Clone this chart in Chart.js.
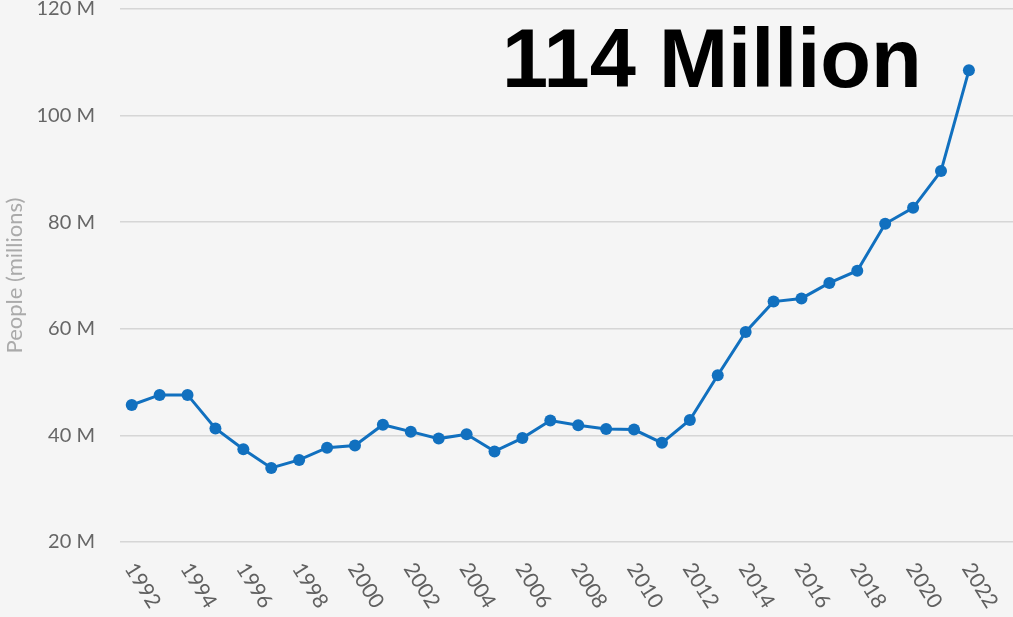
<!DOCTYPE html>
<html>
<head>
<meta charset="utf-8">
<script src="https://cdn.jsdelivr.net/npm/chart.js@4"></script>
<style>
  html, body { margin: 0; padding: 0; background: #f5f5f5; }
  canvas { display: block; }
</style>
</head>
<body>
<canvas id="peopleChart" width="1013" height="617"></canvas>
<script>
// values
const years = [1992, 1993, 1994, 1995, 1996, 1997, 1998, 1999, 2000, 2001,
  2002, 2003, 2004, 2005, 2006, 2007, 2008, 2009, 2010, 2011,
  2012, 2013, 2014, 2015, 2016, 2017, 2018, 2019, 2020, 2021, 2022];
const people = [45.7, 47.6, 47.6, 41.3, 37.4, 33.9, 35.4, 37.7, 38.1, 42.0,
  40.7, 39.4, 40.2, 37.0, 39.5, 42.8, 41.9, 41.2, 41.1, 38.6,
  42.9, 51.3, 59.4, 65.1, 65.7, 68.6, 70.9, 79.7, 82.7, 89.6, 108.5];
const yearTicks = [1992, 1994, 1996, 1998, 2000, 2002, 2004, 2006, 2008,
  2010, 2012, 2014, 2016, 2018, 2020, 2022];
const yTicks = [20, 40, 60, 80, 100, 120];
const headline = '114 Million';
const yTitle = 'People (millions)';

const BLUE = '#1170bf';
const GRID = '#d6d6d6';

// rotated year labels, drawn downwards to the right
const yearLabels = {
  id: 'yearLabels',
  afterDraw(chart) {
    const ctx = chart.ctx;
    const xs = chart.scales.x;
    const top = chart.chartArea.bottom + 23;
    ctx.save();
    ctx.fillStyle = '#606060';
    ctx.font = '21px Lato';
    ctx.textAlign = 'left';
    ctx.textBaseline = 'middle';
    xs.ticks.forEach(t => {
      const px = xs.getPixelForValue(t.value);
      ctx.save();
      ctx.translate(px - 2, top);
      ctx.rotate(58 * Math.PI / 180);
      ctx.fillText(String(t.value), 0, 0);
      ctx.restore();
    });
    ctx.restore();
  }
};

const headlineText = {
  id: 'headlineText',
  afterDraw(chart) {
    const ctx = chart.ctx;
    ctx.save();
    ctx.fillStyle = '#000';
    ctx.font = 'bold 83px "Liberation Sans", Arial';
    ctx.textAlign = 'left';
    ctx.textBaseline = 'alphabetic';
    ctx.fillText(headline, chart.chartArea.left + 382, 87);
    ctx.restore();
  }
};

new Chart(document.getElementById('peopleChart').getContext('2d'), {
  type: 'line',
  data: {
    datasets: [{
      data: years.map((y, i) => ({ x: y, y: people[i] })),
      borderColor: BLUE,
      backgroundColor: BLUE,
      borderWidth: 3,
      pointRadius: 6,
      pointBorderWidth: 0,
      pointBackgroundColor: BLUE,
      tension: 0
    }]
  },
  options: {
    responsive: false,
    animation: false,
    devicePixelRatio: 1,
    layout: { autoPadding: false, padding: { top: 9, left: 0, right: 0, bottom: 0 } },
    plugins: { legend: { display: false }, tooltip: { enabled: false } },
    scales: {
      x: {
        type: 'linear',
        min: 1991.58,
        max: 2023.58,
        grid: { display: false },
        border: { display: false },
        ticks: { display: false },
        afterBuildTicks(s) { s.ticks = yearTicks.map(v => ({ value: v })); },
        afterFit(s) { s.height = 75; s.paddingLeft = 0; s.paddingRight = 0; }
      },
      y: {
        min: 20,
        max: 120,
        grid: { color: GRID, lineWidth: 1.5, drawTicks: false },
        border: { display: false },
        afterBuildTicks(s) { s.ticks = yTicks.map(v => ({ value: v })); },
        ticks: {
          color: '#666',
          padding: 25,
          font: { family: 'Lato', size: 20 },
          callback: v => v + ' M'
        },
        title: {
          display: true,
          text: yTitle,
          color: '#aaa',
          padding: { top: 2, bottom: 0 },
          font: { family: 'Lato', size: 22 }
        },
        afterFit(s) { s.width = 120; s.paddingTop = 0; s.paddingBottom = 0; }
      }
    }
  },
  plugins: [yearLabels, headlineText]
});
</script>
</body>
</html>
